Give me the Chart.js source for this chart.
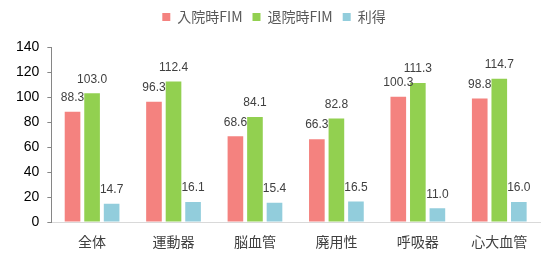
<!DOCTYPE html>
<html>
<head>
<meta charset="utf-8">
<script src="https://cdn.jsdelivr.net/npm/chart.js@4/dist/chart.umd.min.js"></script>
<style>
html, body { margin: 0; padding: 0; background: #fff; }
#wrap { width: 551px; height: 254px; }
</style>
</head>
<body>
<div id="wrap"><canvas id="fim"></canvas></div>
<script>
var categories = ['全体', '運動器', '脳血管', '廃用性', '呼吸器', '心大血管'];
var admission = [88.3, 96.3, 68.6, 66.3, 100.3, 98.8];
var discharge = [103.0, 112.4, 84.1, 82.8, 111.3, 114.7];
var gain = [14.7, 16.1, 15.4, 16.5, 11.0, 16.0];

Chart.defaults.font.family = "'Noto Sans CJK JP', 'Liberation Sans', sans-serif";

// 値ラベル（棒の上）
var valueLabels = {
	id: 'valueLabels',
	afterDatasetsDraw: function(chart) {
		var ctx = chart.ctx;
		ctx.save();
		ctx.font = "12px 'Liberation Sans', sans-serif";
		ctx.fillStyle = '#404040';
		ctx.textAlign = 'center';
		ctx.textBaseline = 'bottom';
		chart.data.datasets.forEach(function(ds, i) {
			chart.getDatasetMeta(i).data.forEach(function(bar, j) {
				ctx.fillText(ds.data[j].toFixed(1), bar.x, bar.y - 8);
			});
		});
		ctx.restore();
	}
};

// 凡例の下に余白を足す
var legendGap = {
	id: 'legendGap',
	beforeInit: function(chart) {
		var fit = chart.legend.fit;
		chart.legend.fit = function() {
			fit.bind(chart.legend)();
			this.height += 13;
		};
	}
};

var fim = new Chart(document.getElementById('fim'), {
	type: 'bar',
	data: {
		labels: categories,
		datasets: [{
			label: '入院時FIM',
			data: admission,
			backgroundColor: '#F4827F'
		},
		{
			label: '退院時FIM',
			data: discharge,
			backgroundColor: '#92D050'
		},
		{
			label: '利得',
			data: gain,
			backgroundColor: '#92CDDC'
		}]
	},
	options: {
		responsive: true,
		maintainAspectRatio: false,
		animation: false,
		layout: { padding: { left: 8, right: 11, top: 0, bottom: 0 } },
		datasets: { bar: { categoryPercentage: 0.72, barPercentage: 0.8 } },
		plugins: {
			legend: {
				position: 'top',
				labels: { boxWidth: 8, boxHeight: 8, color: '#595959', font: { size: 14 }, padding: 10 }
			},
			tooltip: { enabled: false }
		},
		scales: {
			x: {
				grid: { display: false },
				border: { color: '#D9D9D9' },
				ticks: { color: '#404040', font: { size: 14, lineHeight: 1 }, padding: 5 }
			},
			y: {
				min: 0,
				max: 140,
				ticks: { stepSize: 20, color: '#000', font: { size: 14, family: "'Liberation Sans', sans-serif" }, padding: 8 },
				grid: { drawOnChartArea: false, tickLength: 4, color: '#868686' },
				border: { color: '#868686' }
			}
		}
	},
	plugins: [valueLabels, legendGap]
});
</script>
</body>
</html>
